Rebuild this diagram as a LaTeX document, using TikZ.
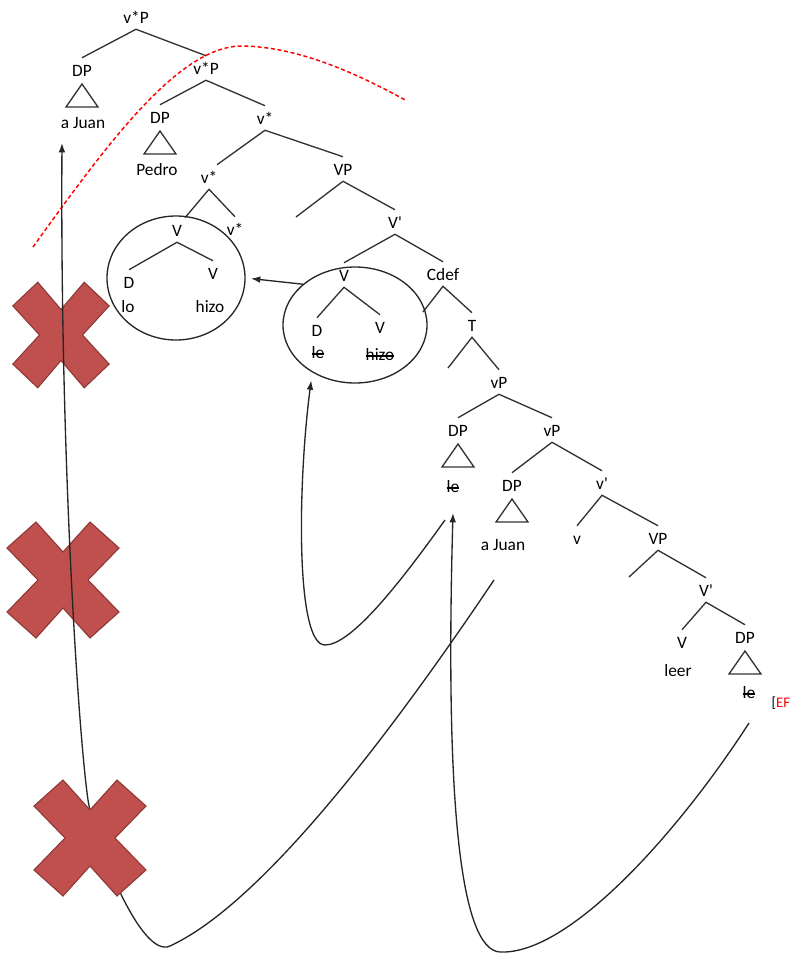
\documentclass[tikz,border=0pt]{standalone}
\usepackage{fontspec}
\setmainfont{Carlito}[Ligatures=TeXOff]
\usetikzlibrary{arrows.meta,calc,shapes.geometric}
\definecolor{xred}{HTML}{C0504D}
\definecolor{xredd}{HTML}{8C3836}
\newcommand\trimark[1]{\draw[br] ($(#1.center)+(0,14)$) -- ++(-16,23) -- ++(32,0) -- cycle;}
\newcommand\strk[1]{\setbox0\hbox{#1}\rlap{\rule[0.25em]{\wd0}{0.07em}}\box0}
\begin{document}
\begin{tikzpicture}[x=0.75pt,y=-0.75pt,
  lab/.style={inner xsep=1pt, inner ysep=4.5pt, text height=9pt, text depth=0pt, font=\fontsize{13}{15}\selectfont},
  word/.style={inner sep=1pt, font=\fontsize{13}{15}\selectfont},
  br/.style={draw=black!80, line width=1pt},
  mv/.style={draw=black!85, line width=1pt},
  tipA/.style={-{Latex[length=7pt,width=5pt]}},
  ring/.style={draw=black!85, line width=1pt, ellipse, inner sep=0pt},
  xfill/.style={fill=xred, draw=xredd, line width=0.8pt},
  redx/.pic={\path[xfill] (-56,-32) -- (-27,-58) -- (0,-28) -- (27,-58) -- (56,-32) -- (25,0) -- (56,32) -- (27,58) -- (0,28) -- (-27,58) -- (-56,32) -- (-25,0) -- cycle;}
]
\useasboundingbox (0,0) rectangle (792,954);

% red dashed boundary
\draw[red, dash pattern=on 3pt off 2pt, line width=1.1pt] (33,247) .. controls (110,140) and (180,45) .. (243,46) .. controls (300,47) and (360,75) .. (407,101);

% labels
\node[lab] (n1) at (136,17) {v*P};
\node[lab] (dp1) at (82,70) {DP};
\node[word] (aj1) at (83,123) {a Juan};
\node[lab] (n2) at (206,68) {v*P};
\node[lab] (dp2) at (160,117) {DP};
\node[word] (pedro) at (157,170) {Pedro};
\node[lab] (n3) at (265,118) {v*};
\node[lab] (n4) at (209,177) {v*};
\node[lab] (vp1) at (343,169) {VP};
\node[lab] (v1) at (177,230) {V};
\node[lab] (n5) at (235,229) {v*};
\node[lab] (d1) at (129,282) {D};
\node[lab] (v2) at (213,273) {V};
\node[word] (lo) at (128,307) {lo};
\node[word] (hizo1) at (210,307) {hizo};
\node[lab] (vb1) at (395,222) {V'};
\node[lab] (v3) at (344,275) {V};
\node[lab] (cdef) at (443,274) {Cdef};
\node[lab] (d2) at (317,330) {D};
\node[lab] (v4) at (380,327) {V};
\node[word] (le1) at (318,353) {\strk{le}};
\node[word] (hizo2) at (380,355) {\strk{hizo}};
\node[lab] (t) at (472,325) {T};
\node[lab] (vP1) at (499,382) {vP};
\node[lab] (dp3) at (458,430) {DP};
\node[word] (le2) at (453,487) {\strk{le}};
\node[lab] (vP2) at (552,430) {vP};
\node[lab] (dp4) at (512,485) {DP};
\node[word] (aj2) at (503,545) {a Juan};
\node[lab] (vb2) at (602,483) {v'};
\node[lab] (vs) at (577,538) {v};
\node[lab] (vp2) at (658,538) {VP};
\node[lab] (vb3) at (706,590) {V'};
\node[lab] (v5) at (682,642) {V};
\node[lab] (dp5) at (745,637) {DP};
\node[word] (leer) at (678,671) {leer};
\node[word] (le3) at (749,693) {\strk{le}};
\node[word, anchor=west, font=\fontsize{11}{13}\selectfont] (ef) at (770,703) {[\textcolor{red}{EF}};

% free branch ends
\coordinate (vp1l) at (296,217);
\coordinate (cdefl) at (423,312);
\coordinate (tl) at (448,368);
\coordinate (vp2l) at (629,577);

% branches
\draw[br] (dp1.north) -- (n1.south) -- (n2.north);
\draw[br] (dp2.north) -- (n2.south) -- (n3.north);
\draw[br] ($(n4.north)+(8,0)$) -- (n3.south) -- (vp1.north);
\draw[br] ($(v1.north)+(8,0)$) -- (n4.south) -- (n5.north);
\draw[br] (vp1l) -- (vp1.south) -- (vb1.north);
\draw[br] (d1.north) -- (v1.south) -- (v2.north);
\draw[br] (v3.north) -- (vb1.south) -- (cdef.north);
\draw[br] (d2.north) -- (v3.south) -- (v4.north);
\draw[br] (cdefl) -- (cdef.south) -- (t.north);
\draw[br] (tl) -- (t.south) -- (vP1.north);
\draw[br] (dp3.north) -- (vP1.south) -- (vP2.north);
\draw[br] (dp4.north) -- (vP2.south) -- (vb2.north);
\draw[br] (vs.north) -- (vb2.south) -- (vp2.north);
\draw[br] (vp2l) -- (vp2.south) -- (vb3.north);
\draw[br] (v5.north) -- (vb3.south) -- (dp5.north);

% triangles
\trimark{dp1}
\trimark{dp2}
\trimark{dp3}
\trimark{dp4}
\trimark{dp5}

% circles
\node[ring, minimum width=103.5pt, minimum height=93pt] (c1) at (176,278) {};
\node[ring, minimum width=108pt, minimum height=87pt] (c2) at (355,325) {};
\draw[mv, tipA, shorten >=4pt] (c2.142) -- (c1.east);

% crosses under the long line
\pic[xscale=0.86, yscale=0.91] at (61,335) {redx};
\pic at (63,580) {redx};

% movement curves
\coordinate (a0) at (445,520);
\draw[mv, tipA, shorten >=6pt] (a0) .. controls (395,590) and (350,645) .. (325,645) .. controls (295,645) and (298,480) .. (c2.228);

\coordinate (b0) at (494,580);
\coordinate (b1) at (62,143);
\draw[mv, tipA] (b0) .. controls (410,705) and (270,900) .. (170,946) .. controls (140,960) and (93,835) .. (88,800) .. controls (78,730) and (60,450) .. (b1);

\coordinate (c0) at (749,723);
\coordinate (c9) at (453,513);
\draw[mv, tipA] (c0) .. controls (680,830) and (570,955) .. (500,952) .. controls (460,950) and (445,800) .. (c9);

% cross over the line
\pic at (90,838) {redx};
\end{tikzpicture}
\end{document}
